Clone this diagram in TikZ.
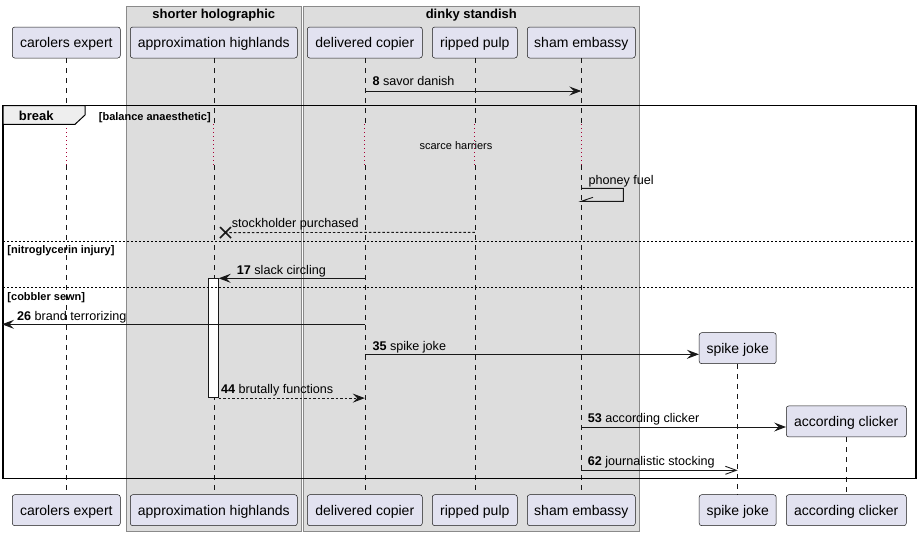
\documentclass[tikz,border=0pt]{standalone}
\usepackage{fontspec}
\setmainfont{Liberation Sans}
\usetikzlibrary{arrows.meta,calc}
\definecolor{partfill}{HTML}{E2E2F0}
\definecolor{ln}{HTML}{181818}
\definecolor{boxfill}{HTML}{DDDDDD}
\definecolor{boxdraw}{HTML}{8A8A8A}
\definecolor{delayc}{HTML}{A80036}
\definecolor{tabfill}{HTML}{EEEEEE}
\tikzset{
  part/.style={draw=ln, fill=partfill, rounded corners=2.5pt, line width=0.5pt,
    minimum height=31pt, inner sep=0pt, text height=10pt, text depth=0pt,
    font=\fontsize{14}{16}\selectfont},
  grp/.style={fill=boxfill, draw=boxdraw, line width=0.9pt},
  grptitle/.style={anchor=base, inner sep=0pt, font=\fontsize{13}{15}\selectfont\bfseries},
  life/.style={draw=ln, line width=0.5pt, dash pattern=on 5pt off 5pt},
  delayline/.style={draw=delayc, line width=0.9pt, dash pattern=on 1pt off 3pt},
  msg/.style={draw=ln, line width=1pt, -{Stealth[length=12pt,width=9pt,inset=4.5pt]}},
  dmsg/.style={msg, dash pattern=on 2.5pt off 2pt},
  omsg/.style={draw=ln, line width=1pt, -{Straight Barb[length=11pt,width=8pt,line width=0.9pt]}},
  lbl/.style={anchor=base west, inner sep=0pt, font=\fontsize{12.6}{15}\selectfont},
  glbl/.style={anchor=base west, inner sep=0pt, font=\fontsize{11}{13}\selectfont\bfseries},
  sep/.style={draw=black, line width=0.8pt, dash pattern=on 2pt off 2pt},
}
\begin{document}
\begin{tikzpicture}[x=1pt,y=-1pt]
\useasboundingbox (0,0) rectangle (922,536);
% group boxes
\draw[grp] (126.3,6) rectangle (301.3,531);
\draw[grp] (303.3,6) rectangle (639.3,531);
\node[grptitle] (g1) at (213.8,18.7) {shorter holographic};
\node[grptitle] (g2) at (471.3,18.7) {dinky standish};
% participants top
\node[part, minimum width=108pt] (ce) at (66.3,42.5) {carolers expert};
\node[part, minimum width=167pt] (ah) at (213.8,42.5) {approximation highlands};
\node[part, minimum width=115pt] (dc) at (364.8,42.5) {delivered copier};
\node[part, minimum width=85pt] (rp) at (474.8,42.5) {ripped pulp};
\node[part, minimum width=108pt] (se) at (581.3,42.5) {sham embassy};
% participants bottom
\node[part, minimum width=108pt] (ce2) at (66.3,510.2) {carolers expert};
\node[part, minimum width=167pt] (ah2) at (213.8,510.2) {approximation highlands};
\node[part, minimum width=115pt] (dc2) at (364.8,510.2) {delivered copier};
\node[part, minimum width=85pt] (rp2) at (474.8,510.2) {ripped pulp};
\node[part, minimum width=108pt] (se2) at (581.3,510.2) {sham embassy};
\node[part, minimum width=77pt] (sj2) at (737.7,510.2) {spike joke};
\node[part, minimum width=120pt] (ac2) at (846.3,510.2) {according clicker};
% created participants
\node[part, minimum width=77pt] (sj) at (737.7,348.2) {spike joke};
\node[part, minimum width=120pt] (ac) at (846.3,421.4) {according clicker};
% lifelines
\foreach \p in {ce,ah,dc,rp,se}{
  \draw[life] (\p.south) -- (\p |- 0,124);
  \draw[delayline] (\p |- 0,124) -- (\p |- 0,165);
  \draw[life] (\p |- 0,165) -- (\p2.north);
}
\draw[life] (sj.south) -- (sj2.north);
\draw[life] (ac.south) -- (ac2.north);
% activation
\node[draw=ln, fill=white, line width=0.8pt, inner sep=0pt, minimum width=10pt, minimum height=119pt, anchor=north] (act) at (213.3,278.3) {};
% break frame
\draw[black, line width=1.5pt] (3,105.7) rectangle (916,478.3);
\draw[black, line width=1pt, fill=tabfill] (3,105.7) -- (85,105.7) -- (85,115) -- (75,124.3) -- (3,124.3) -- cycle;
\node[anchor=base west, inner sep=0pt, font=\fontsize{13}{15}\selectfont\bfseries] (brk) at (18.7,120.7) {break};
\node[glbl] (c1) at (98.7,120) {[balance anaesthetic]};
\draw[sep] (3,241.3) -- (916,241.3);
\draw[sep] (3,287.3) -- (916,287.3);
\node[glbl] (c2) at (7.3,253) {[nitroglycerin injury]};
\node[glbl] (c3) at (7.3,300) {[cobbler sewn]};
% delay text
\node[inner sep=0pt, font=\fontsize{11}{13}\selectfont] (dl) at (456,146) {scarce harriers};
% messages
\draw[msg] (dc |- 0,91) -- (se |- 0,91);
\node[lbl] (m8) at (372.3,85.5) {\textbf{8} savor danish};
% self message
\coordinate (sr1) at (623.3,188.3);
\coordinate (sr2) at (623.3,201.3);
\coordinate (sh) at (593,197.3);
\draw[draw=ln, line width=0.9pt] (se |- 0,188.3) -- (sr1) -- (sr2) -- (se |- 0,201.3) -- (sh);
\node[lbl] (mpf) at (588.3,184) {phoney fuel};
% stockholder purchased
\coordinate (xc) at (225.5,232.6);
\draw[draw=ln, line width=0.9pt, dash pattern=on 2.5pt off 2pt] (rp |- 0,232.3) -- (xc);
\draw[draw=ln, line width=1.6pt] ($(xc)+(-5.5,-5.5)$) -- ($(xc)+(5.5,5.5)$) ($(xc)+(-5.5,5.5)$) -- ($(xc)+(5.5,-5.5)$);
\node[lbl] (msp) at (231.7,227.5) {stockholder purchased};
% 17
\draw[msg] (dc |- act.north) -- (act.north east);
\node[lbl] (m17) at (236.7,274) {\textbf{17} slack circling};
% 26
\coordinate (edgeL) at (2,324.3);
\draw[msg] (dc |- edgeL) -- (edgeL);
\node[lbl] (m26) at (17,320) {\textbf{26} brand terrorizing};
% 35
\draw[msg] (dc |- 0,354.3) -- (sj.west |- 0,354.3);
\node[lbl] (m35) at (372.3,350) {\textbf{35} spike joke};
% 44
\draw[dmsg] (act.south east) -- (dc |- act.south);
\node[lbl] (m44) at (221,393) {\textbf{44} brutally functions};
% 53
\draw[msg] (se |- 0,427) -- (ac.west |- 0,427);
\node[lbl] (m53) at (587.7,422.7) {\textbf{53} according clicker};
% 62
\draw[omsg] (se |- 0,470.3) -- (sj |- 0,470.3);
\node[lbl] (m62) at (587.7,465.7) {\textbf{62} journalistic stocking};
\end{tikzpicture}
\end{document}
